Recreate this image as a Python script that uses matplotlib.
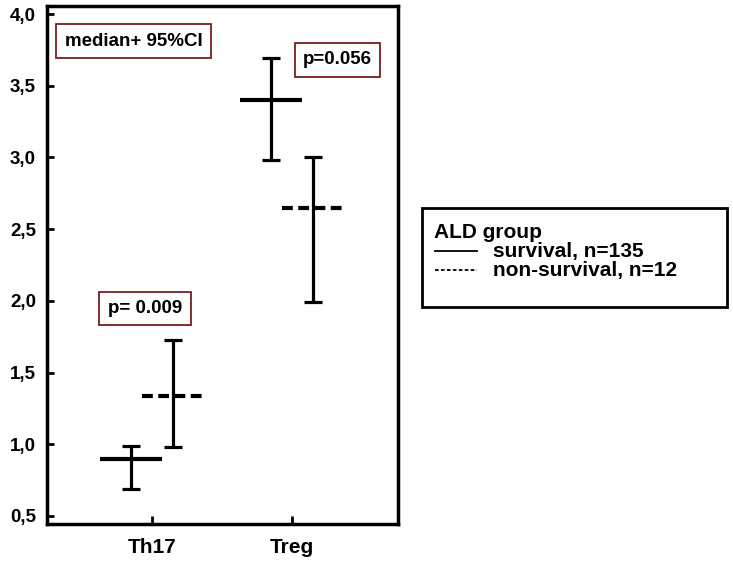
import matplotlib
matplotlib.use("Agg")
import matplotlib.pyplot as plt
from matplotlib.patches import Rectangle
from matplotlib.lines import Line2D

plt.rcParams['font.family'] = ['Liberation Sans', 'DejaVu Sans']

# Data
categories = ["Th17", "Treg"]
groups = ["survival, n=135", "non-survival, n=12"]
medians = {"survival, n=135": [0.90, 3.40], "non-survival, n=12": [1.335, 2.65]}
ci_low = {"survival, n=135": [0.69, 2.98], "non-survival, n=12": [0.98, 1.99]}
ci_high = {"survival, n=135": [0.99, 3.69], "non-survival, n=12": [1.73, 3.00]}
yticks = [0.5, 1.0, 1.5, 2.0, 2.5, 3.0, 3.5, 4.0]
ytick_labels = ["0,5", "1,0", "1,5", "2,0", "2,5", "3,0", "3,5", "4,0"]
pvalues = ["p= 0.009", "p=0.056"]

fig = plt.figure(figsize=(7.33, 5.63), dpi=100)
ax = fig.add_axes([47/733, 39/563, 351/733, 518/563])

offsets = [-0.148, 0.148]
styles = ['-', (0, (2.6, 1.3))]
xs = [1, 2]
for g, off, ls in zip(groups, offsets, styles):
    xpos = [x + off for x in xs]
    med = medians[g]
    lo = [m - l for m, l in zip(med, ci_low[g])]
    hi = [h - m for m, h in zip(med, ci_high[g])]
    ax.errorbar(xpos, med, yerr=[lo, hi], fmt='none', ecolor='black',
                elinewidth=2.3, capsize=6.5, capthick=2.3)
    ax.hlines(med, [x - 0.22 for x in xpos], [x + 0.22 for x in xpos],
              colors='black', linewidth=3.0, linestyles=ls)

ax.set_xlim(0.25, 2.757)
ax.set_ylim(0.444, 4.056)
ax.set_xticks(xs)
ax.set_xticklabels(categories, fontsize=15, fontweight='bold')
ax.set_yticks(yticks)
ax.set_yticklabels(ytick_labels, fontsize=13.5, fontweight='bold')
ax.tick_params(axis='y', direction='in', length=5, width=2, pad=8)
ax.tick_params(axis='x', direction='in', length=6, width=2, pad=10)
for s in ax.spines.values():
    s.set_linewidth(2.5)

box_color = '#7a1f1f'
def tbox(px, py, txt):
    ax.text((px - 47) / 351, (524 - py) / 518, txt, transform=ax.transAxes,
            fontsize=13.5, fontweight='bold', ha='center', va='center',
            bbox=dict(boxstyle='square,pad=0.45', facecolor='white',
                      edgecolor=box_color, linewidth=1.3))

tbox(133.5, 41, "median+ 95%CI")
tbox(337.5, 60, pvalues[1])
tbox(145, 308.5, pvalues[0])

# Legend box drawn in figure coordinates
W, H = 733, 563
fig.patches.append(Rectangle((422 / W, (H - 307) / H), 305 / W, 99 / H,
                             transform=fig.transFigure, fill=False,
                             edgecolor='black', linewidth=2))
fig.text(434 / W, (H - 232) / H, "ALD group", fontsize=15, fontweight='bold',
         va='center', ha='left')
for i, (g, ls) in enumerate(zip(groups, ['-', (0, (2, 1.3))])):
    yy = (H - (251 + 19.5 * i)) / H
    fig.lines.append(Line2D([435 / W, 477 / W], [yy, yy], transform=fig.transFigure,
                            color='black', linewidth=1.3, linestyle=ls))
    fig.text(493 / W, yy, g, fontsize=15, fontweight='bold', va='center', ha='left')

fig.savefig("out.png", dpi=100)
